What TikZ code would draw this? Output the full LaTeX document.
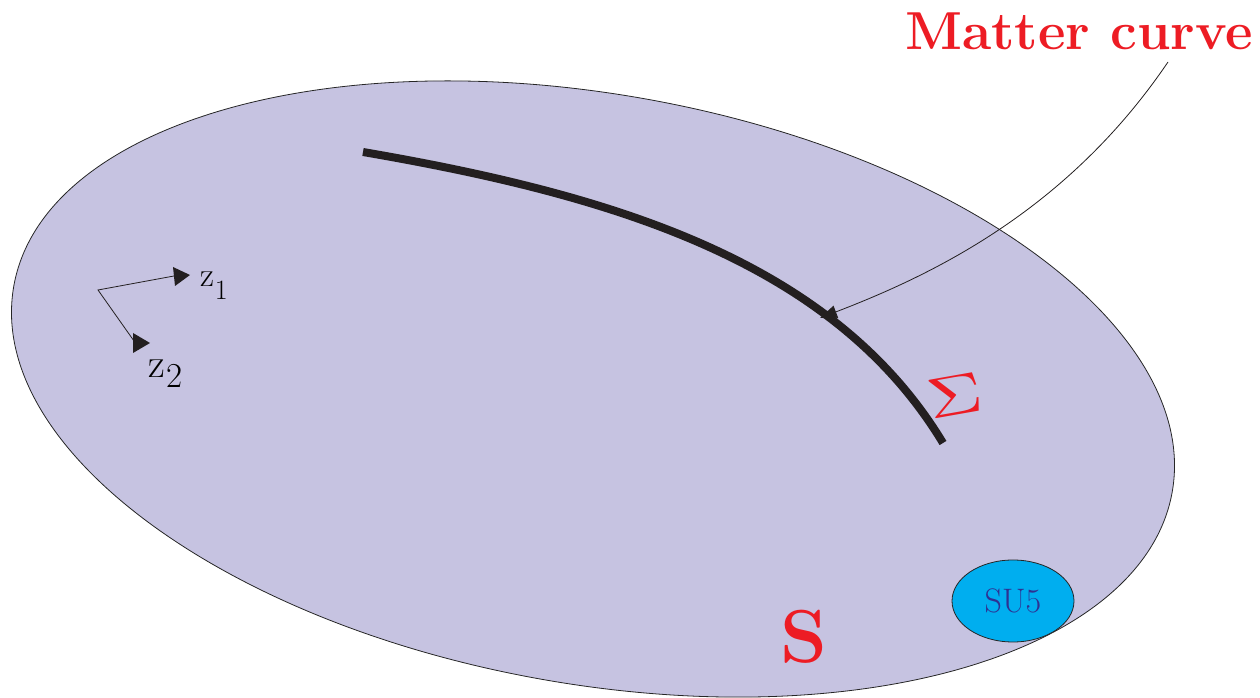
\documentclass[tikz,border=0pt]{standalone}
\usetikzlibrary{arrows.meta,shapes.geometric}
\definecolor{lav}{RGB}{198,195,225}
\definecolor{redtxt}{RGB}{237,28,36}
\definecolor{cyanfill}{RGB}{0,174,239}
\definecolor{sutxt}{RGB}{46,49,146}
\definecolor{curveblk}{RGB}{35,31,32}
\tikzset{
  surface/.style={fill=lav, draw=black!85, line width=0.8pt},
  mattercurve/.style={draw=curveblk, line width=8pt},
  pointer/.style={draw=curveblk, line width=0.8pt, -{Triangle[length=17pt,width=13pt]}},
  axisline/.style={draw=curveblk, line width=0.8pt},
  axishead/.style={fill=curveblk},
  lbl/.style={inner sep=0pt, outer sep=0pt},
}
\begin{document}
\begin{tikzpicture}[x=1pt,y=1pt]
\useasboundingbox (0,0) rectangle (1260,698);
% surface S
\draw[surface, rotate around={-10.1:(593,309)}] (593,309) ellipse [x radius=588.3, y radius=294.8];
% SU5 region
\node[ellipse, draw=black!85, line width=0.8pt, fill=cyanfill, minimum width=122pt, minimum height=82pt, inner sep=0pt, text=sutxt, font=\fontsize{34}{34}\selectfont] (su5) at (1013,97) {SU5};
% matter curve
\coordinate (c0) at (363,546);
\coordinate (c1) at (943,255);
\draw[mattercurve] (c0) .. controls (613,503) and (833,437) .. (c1);
% label and pointer
\node[lbl, anchor=base west, text=redtxt, font=\fontsize{53.5}{53.5}\selectfont\bfseries] (mclabel) at (905,648) {Matter curve};
\coordinate (pstart) at (1168,636);
\coordinate (ptip) at (820,380);
\draw[pointer] (pstart) .. controls (1067,487) and (932,423) .. (ptip);
% Sigma
\node[lbl, text=redtxt, rotate=10] (sigma) at (955,302) {\scalebox{7.6}[5.7]{$\Sigma$}};
% S
\node[lbl, anchor=base west, text=redtxt, font=\fontsize{75}{75}\selectfont\bfseries] (slabel) at (780,35) {S};
% local coordinates z1, z2
\coordinate (o) at (98,408);
\coordinate (e1) at (174,422);
\coordinate (e2) at (134,357);
\draw[axisline] (e1) -- (o) -- (e2);
\fill[axishead] (173,431) -- (190,423) -- (175,412) -- cycle;
\fill[axishead] (133,365) -- (150,355) -- (133,345) -- cycle;
\node[lbl, anchor=base west, font=\fontsize{34}{34}\selectfont] (z1) at (200,411) {z\kern1pt\raisebox{-13pt}{\fontsize{28}{28}\selectfont 1}};
\node[lbl, anchor=base west, font=\fontsize{41}{41}\selectfont] (z2) at (148,320) {z\kern2pt\raisebox{-10pt}{\fontsize{35}{35}\selectfont 2}};
\end{tikzpicture}
\end{document}
